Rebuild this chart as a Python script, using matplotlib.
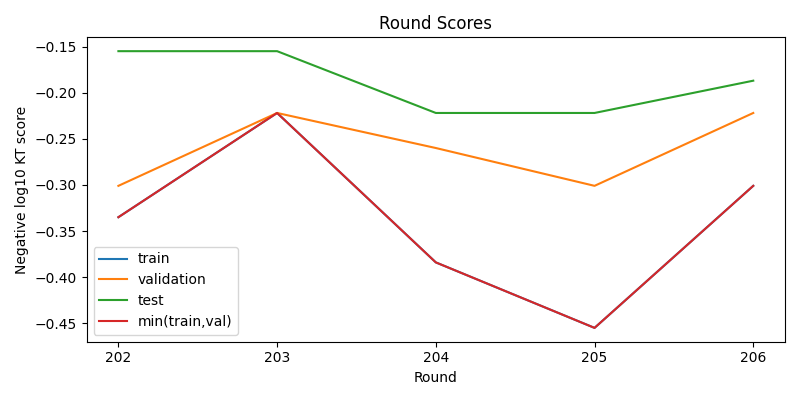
import numpy as np
import matplotlib
matplotlib.use('Agg')
import matplotlib.pyplot as plt

rounds = [202, 203, 204, 205, 206]
train = [-0.335, -0.222, -0.384, -0.455, -0.301]
validation = [-0.301, -0.222, -0.260, -0.301, -0.222]
test = [-0.155, -0.155, -0.222, -0.222, -0.187]
min_train_val = [min(t, v) for t, v in zip(train, validation)]

fig, ax = plt.subplots(figsize=(8, 4), dpi=100)
ax.plot(rounds, train, label='train')
ax.plot(rounds, validation, label='validation')
ax.plot(rounds, test, label='test')
ax.plot(rounds, min_train_val, label='min(train,val)')
ax.set_xticks(rounds)
ax.set_title('Round Scores')
ax.set_xlabel('Round')
ax.set_ylabel('Negative log10 KT score')
ax.legend()
fig.tight_layout()
fig.savefig('out.png')
